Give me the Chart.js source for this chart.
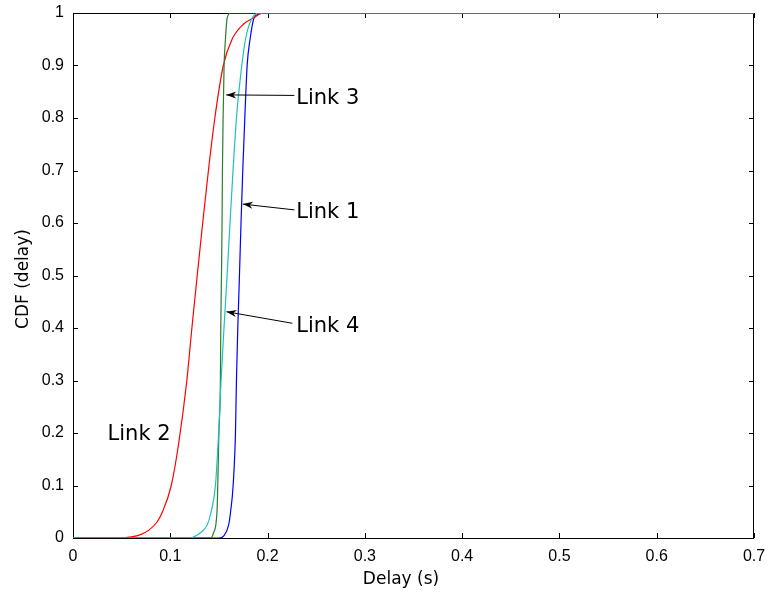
<!DOCTYPE html>
<html>
<head>
<meta charset="utf-8">
<script src="https://cdn.jsdelivr.net/npm/chart.js@4"></script>
<style>
  html, body { margin: 0; padding: 0; background: #fff; }
  #wrap { width: 770px; height: 596px; }
</style>
</head>
<body>
<div id="wrap"><canvas id="cdfChart" width="770" height="596"></canvas></div>
<script>
// delay (s) vs CDF
const link1Delay = [0, 0.150, 0.155, 0.160, 0.162, 0.1646, 0.167, 0.168, 0.1694, 0.1711, 0.1727, 0.1745, 0.1766, 0.179, 0.182, 0.186, 0.191, 0.196, 0.7];
const link1Cdf   = [0, 0,     0.004, 0.025, 0.05,  0.1,    0.2,   0.3,   0.4,    0.5,    0.6,    0.7,    0.8,    0.9,   0.95,  0.99,  0.998, 1,     1];

const link2Delay = [0, 0.048, 0.060, 0.070, 0.078, 0.0862, 0.092, 0.101, 0.1086, 0.117, 0.1222, 0.1277, 0.1333, 0.1392, 0.1458, 0.1545, 0.1635, 0.176, 0.185, 0.196, 0.7];
const link2Cdf   = [0, 0,     0.002, 0.007, 0.015, 0.03,   0.05,  0.1,   0.18,   0.3,   0.4,    0.5,    0.6,    0.7,    0.8,    0.9,    0.95,   0.98,  0.99,  1,     1];

const link3Delay = [0, 0.142, 0.1445, 0.148, 0.150, 0.1515, 0.1519, 0.1526, 0.1532, 0.1536, 0.1543, 0.1553, 0.1567, 0.1584, 0.162, 0.7];
const link3Cdf   = [0, 0,     0.01,   0.05,  0.2,   0.3,    0.4,    0.5,    0.6,    0.7,    0.8,    0.9,    0.95,   0.99,   1,     1];

const link4Delay = [0, 0.119, 0.125, 0.131, 0.138, 0.142, 0.1464, 0.1497, 0.1522, 0.1552, 0.1584, 0.1614, 0.1645, 0.168, 0.1735, 0.1773, 0.184, 0.193, 0.7];
const link4Cdf   = [0, 0,     0.003, 0.01,  0.025, 0.05,  0.1,    0.2,    0.3,    0.4,    0.5,    0.6,    0.7,    0.8,   0.9,    0.95,   0.99,  1,     1];

const xTicks = [0, 0.1, 0.2, 0.3, 0.4, 0.5, 0.6, 0.7];
const yTicks = [0, 0.1, 0.2, 0.3, 0.4, 0.5, 0.6, 0.7, 0.8, 0.9, 1];

// label text, where it sits and where its arrow points (data coords)
const notes = [
  { text: 'Link 3', x: 0.2295, y: 0.838, from: [0.2275, 0.843], to: [0.1575, 0.844] },
  { text: 'Link 1', x: 0.2295, y: 0.620, from: [0.2275, 0.625], to: [0.1745, 0.636] },
  { text: 'Link 4', x: 0.2295, y: 0.402, from: [0.2255, 0.409], to: [0.1577, 0.431] },
  { text: 'Link 2', x: 0.0355, y: 0.198 }
];

const toPts = (xs, ys) => xs.map((x, i) => ({ x: x, y: ys[i] }));

function series(label, xs, ys, color) {
  return {
    label: label,
    data: toPts(xs, ys),
    borderColor: color,
    borderWidth: 1.2,
    pointRadius: 0,
    fill: false,
    cubicInterpolationMode: 'monotone'
  };
}

// drop the label overhang padding so layout.padding fixes the plot box
function noOverhang(s) {
  s.paddingTop = 0; s.paddingBottom = 0;
  s.paddingLeft = 0; s.paddingRight = 0;
}

// box and inward tick marks under the curves, titles and arrow notes on top
const matlabAxes = {
  id: 'matlabAxes',
  beforeDatasetsDraw(chart) {
    const c = chart.ctx;
    const a = chart.chartArea;
    const sx = chart.scales.x, sy = chart.scales.y;
    c.save();
    c.strokeStyle = '#000';
    c.lineWidth = 1;
    c.strokeRect(a.left + 0.5, a.top + 0.5, a.right - a.left - 1, a.bottom - a.top);
    c.beginPath();
    xTicks.forEach(v => {
      const px = Math.round(sx.getPixelForValue(v)) + 0.5;
      c.moveTo(px, a.bottom); c.lineTo(px, a.bottom - 5);
      c.moveTo(px, a.top); c.lineTo(px, a.top + 5);
    });
    yTicks.forEach(v => {
      const py = Math.round(sy.getPixelForValue(v)) + 0.5;
      c.moveTo(a.left, py); c.lineTo(a.left + 5, py);
      c.moveTo(a.right, py); c.lineTo(a.right - 5, py);
    });
    c.stroke();
    c.restore();
  },
  afterDraw(chart) {
    const c = chart.ctx;
    const sx = chart.scales.x, sy = chart.scales.y;
    c.save();
    c.strokeStyle = '#000';
    c.lineWidth = 1;
    c.fillStyle = '#000';
    c.font = '17px "DejaVu Sans"';
    c.textAlign = 'center';
    c.textBaseline = 'middle';
    c.fillText('Delay (s)', 401, 580);
    c.save();
    c.translate(24, 279);
    c.rotate(-Math.PI / 2);
    c.fillText('CDF (delay)', 0, 0);
    c.restore();

    c.font = '21px "DejaVu Sans"';
    c.textAlign = 'left';
    notes.forEach(n => {
      c.fillText(n.text, sx.getPixelForValue(n.x), sy.getPixelForValue(n.y));
      if (!n.from) return;
      const x0 = sx.getPixelForValue(n.from[0]), y0 = sy.getPixelForValue(n.from[1]);
      const x1 = sx.getPixelForValue(n.to[0]), y1 = sy.getPixelForValue(n.to[1]);
      c.beginPath();
      c.moveTo(x0, y0); c.lineTo(x1, y1);
      c.stroke();
      const ang = Math.atan2(y1 - y0, x1 - x0);
      c.save();
      c.translate(x1, y1);
      c.rotate(ang);
      c.beginPath();
      c.moveTo(0, 0);
      c.lineTo(-10, -3.5);
      c.lineTo(-7, 0);
      c.lineTo(-10, 3.5);
      c.closePath();
      c.fill();
      c.restore();
    });
    c.restore();
  }
};

new Chart(document.getElementById('cdfChart'), {
  type: 'line',
  data: {
    datasets: [
      series('Link 4', link4Delay, link4Cdf, '#1fbfbf'),
      series('Link 3', link3Delay, link3Cdf, '#2a7f2a'),
      series('Link 2', link2Delay, link2Cdf, '#ff0000'),
      series('Link 1', link1Delay, link1Cdf, '#0000ff')
    ]
  },
  options: {
    responsive: false,
    animation: false,
    layout: { padding: { left: 0, right: 16, top: 13, bottom: 0 } },
    plugins: { legend: { display: false }, tooltip: { enabled: false } },
    scales: {
      x: {
        type: 'linear',
        min: 0, max: 0.7,
        afterFit: s => { noOverhang(s); s.height = 58; },
        afterBuildTicks: s => { s.ticks = xTicks.map(v => ({ value: v })); },
        grid: { display: false, drawTicks: false },
        border: { display: false },
        ticks: {
          color: '#000', padding: 9, maxRotation: 0,
          font: { family: '"Liberation Sans", Arial', size: 16 },
          callback: v => String(Math.round(v * 10) / 10)
        }
      },
      y: {
        type: 'linear',
        min: 0, max: 1,
        afterFit: s => { noOverhang(s); s.width = 73; },
        afterBuildTicks: s => { s.ticks = yTicks.map(v => ({ value: v })); },
        grid: { display: false, drawTicks: false },
        border: { display: false },
        ticks: {
          color: '#000', padding: 9,
          font: { family: '"Liberation Sans", Arial', size: 16 },
          callback: v => String(Math.round(v * 10) / 10)
        }
      }
    }
  },
  plugins: [matlabAxes]
});
</script>
</body>
</html>
